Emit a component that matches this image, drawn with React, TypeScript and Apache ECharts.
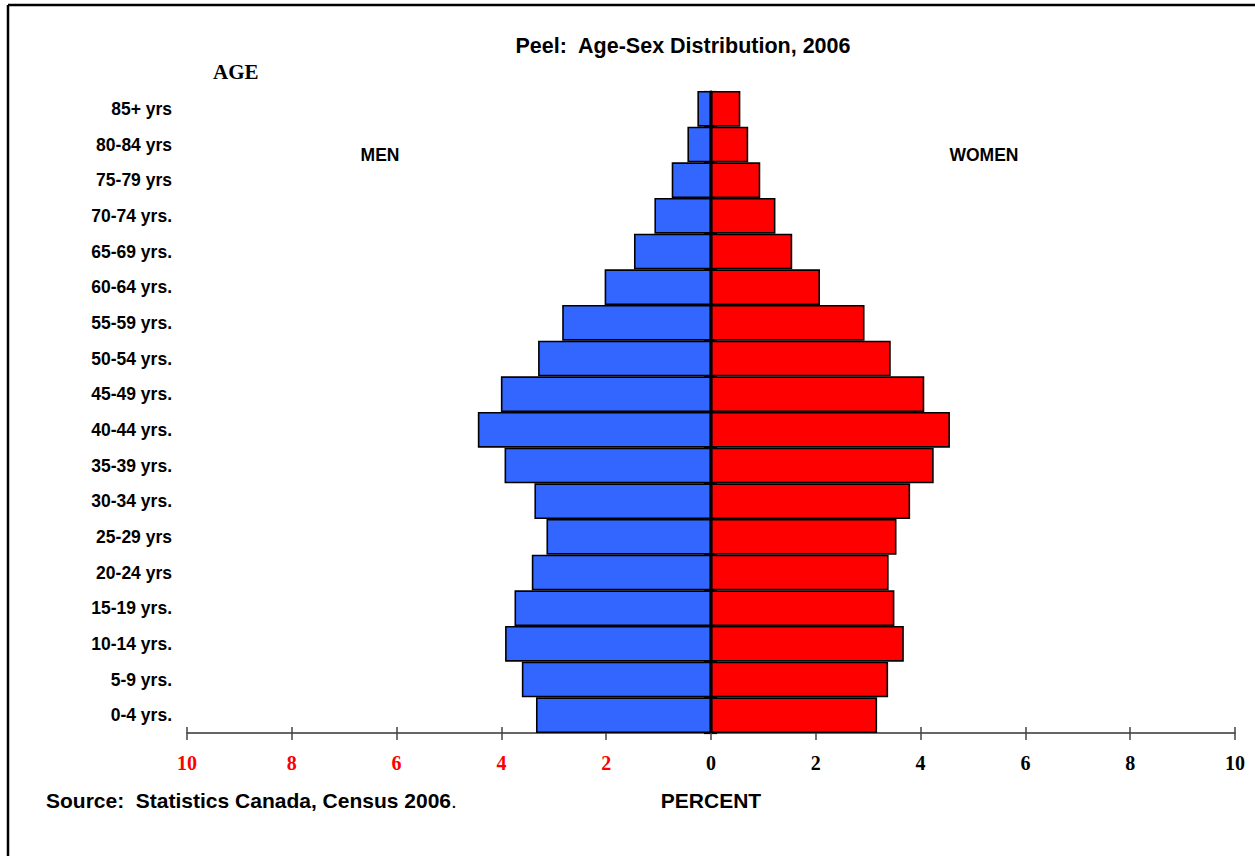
import React, { useEffect, useRef } from "react";
import * as echarts from "echarts";

const ageGroups = [
  "0-4 yrs.", "5-9 yrs.", "10-14 yrs.", "15-19 yrs.", "20-24 yrs", "25-29 yrs",
  "30-34 yrs.", "35-39 yrs.", "40-44 yrs.", "45-49 yrs.", "50-54 yrs.", "55-59 yrs.",
  "60-64 yrs.", "65-69 yrs.", "70-74 yrs.", "75-79 yrs", "80-84 yrs", "85+ yrs",
];
const menPct = [3.34, 3.61, 3.93, 3.75, 3.42, 3.14, 3.37, 3.94, 4.45, 4.01, 3.30, 2.84, 2.03, 1.47, 1.08, 0.75, 0.45, 0.26];
const womenPct = [3.17, 3.38, 3.68, 3.50, 3.39, 3.54, 3.80, 4.25, 4.56, 4.07, 3.43, 2.93, 2.08, 1.55, 1.23, 0.94, 0.71, 0.56];
const percentTicks = { min: -10, max: 10, interval: 2 };

const SANS = "Liberation Sans, Arial, sans-serif";
const SERIF = "Liberation Serif, Times New Roman, serif";

export default function App() {
  const ref = useRef<HTMLDivElement>(null);
  useEffect(() => {
    if (!ref.current) return;
    const chart = echarts.init(ref.current, null, { renderer: "svg" });
    const xBase = {
      type: "value",
      min: percentTicks.min,
      max: percentTicks.max,
      interval: percentTicks.interval,
      splitLine: { show: false },
      position: "bottom",
    };
    const yBase = {
      type: "category",
      data: ageGroups,
      position: "left",
      splitLine: { show: false },
    };
    chart.setOption({
      animation: false,
      backgroundColor: "#fff",
      grid: { left: 187, right: 20, top: 91, bottom: 123, containLabel: false },
      xAxis: [
        {
          ...xBase,
          axisLine: { show: true, lineStyle: { color: "#333", width: 1.5 } },
          axisTick: { show: true, length: 7, lineStyle: { color: "#444", width: 1.5 } },
          axisLabel: {
            margin: 20,
            fontFamily: SERIF,
            fontWeight: "bold",
            fontSize: 20,
            formatter: (v: number) => String(Math.abs(v)),
            color: (v: any) => (Number(v) < 0 ? "#FF0000" : "#000"),
          },
        },
        {
          ...xBase,
          axisLine: { show: false },
          axisTick: { show: true, inside: true, length: 6, lineStyle: { color: "#444", width: 1.5 } },
          axisLabel: { show: false },
        },
      ],
      yAxis: [
        {
          ...yBase,
          axisLine: { show: true, lineStyle: { color: "#000", width: 1.5 } },
          axisTick: { show: true, length: 7, lineStyle: { color: "#000", width: 1.2 } },
          axisLabel: {
            margin: 15,
            fontFamily: SANS,
            fontWeight: "bold",
            fontSize: 17.5,
            color: "#000",
          },
        },
        {
          ...yBase,
          axisLine: { show: false },
          axisTick: { show: true, inside: true, length: 6, lineStyle: { color: "#000", width: 1.2 } },
          axisLabel: { show: false },
        },
      ],
      series: [
        {
          name: "MEN",
          type: "bar",
          stack: "pop",
          data: menPct.map((v) => -v),
          itemStyle: { color: "#3366FF", borderColor: "#000", borderWidth: 1.6 },
          barCategoryGap: "0%",
        },
        {
          name: "WOMEN",
          type: "bar",
          stack: "pop",
          data: womenPct,
          itemStyle: { color: "#FF0000", borderColor: "#000", borderWidth: 1.6 },
          barCategoryGap: "0%",
        },
      ],
      graphic: [
        { type: "line", shape: { x1: 8, y1: 5, x2: 1255, y2: 5 }, style: { stroke: "#000", lineWidth: 2.5 } },
        { type: "line", shape: { x1: 8, y1: 5, x2: 8, y2: 856 }, style: { stroke: "#000", lineWidth: 2.5 } },
        {
          type: "text", x: 683, y: 46,
          style: { text: "Peel:  Age-Sex Distribution, 2006", font: `bold 21.5px ${SANS}`, fill: "#000", textAlign: "center", textVerticalAlign: "middle" },
        },
        {
          type: "text", x: 213, y: 72,
          style: { text: "AGE", font: `bold 21px ${SERIF}`, fill: "#000", textAlign: "left", textVerticalAlign: "middle" },
        },
        {
          type: "text", x: 380, y: 155,
          style: { text: "MEN", font: `bold 17.5px ${SANS}`, fill: "#000", textAlign: "center", textVerticalAlign: "middle" },
        },
        {
          type: "text", x: 984, y: 155,
          style: { text: "WOMEN", font: `bold 17.5px ${SANS}`, fill: "#000", textAlign: "center", textVerticalAlign: "middle" },
        },
        {
          type: "text", x: 711, y: 800,
          style: { text: "PERCENT", font: `bold 21px ${SANS}`, fill: "#000", textAlign: "center", textVerticalAlign: "middle" },
        },
        {
          type: "text", x: 46, y: 800,
          style: {
            text: "{b|Source:  Statistics Canada, Census 2006}{n|.}",
            textAlign: "left", textVerticalAlign: "middle",
            rich: {
              b: { font: `bold 21px ${SANS}`, fill: "#000" },
              n: { font: `21px ${SANS}`, fill: "#000" },
            },
          },
        },
      ],
    });
    return () => chart.dispose();
  }, []);
  return (
    <div
      ref={ref}
      style={{ position: "absolute", left: 0, top: 0, width: 1255, height: 856 }}
    />
  );
}
